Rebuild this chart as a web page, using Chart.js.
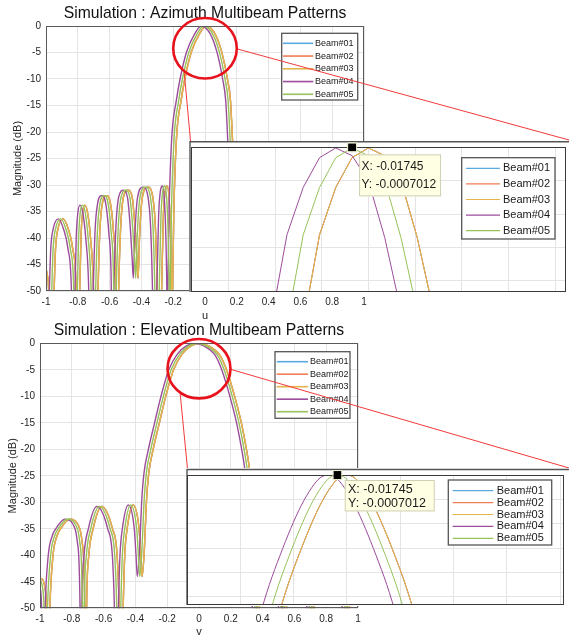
<!DOCTYPE html>
<html>
<head>
<meta charset="utf-8">
<script src="https://cdn.jsdelivr.net/npm/chart.js@4.4.1/dist/chart.umd.min.js"></script>
<style>
  html, body { margin: 0; padding: 0; background: #fff; }
  #page { position: relative; width: 569px; height: 640px; overflow: hidden; background: #fff; }
  canvas { position: absolute; }
  #azChart { left: 0; top: 0; }
  #elChart { left: 0; top: 318px; }
  #azZoom { left: 189px; top: 141px; z-index: 2; }
  #elZoom { left: 186px; top: 468px; z-index: 2; }
</style>
</head>
<body>
<div id="page">
  <canvas id="azChart" width="569" height="330"></canvas>
  <canvas id="elChart" width="569" height="322"></canvas>
  <canvas id="azZoom" width="380" height="152"></canvas>
  <canvas id="elZoom" width="383" height="138"></canvas>
</div>
<script>
const beamNames = ['Beam#01', 'Beam#02', 'Beam#03', 'Beam#04', 'Beam#05'];
const beamColors = ['#5aa9e0', '#ef7d55', '#e5b54c', '#9c4c9c', '#97c25a'];

// azimuth pattern (u, dB) - beams 01..03 overlap
const azMag = [
  -46, -44.8, -46.5, -50, -70,
  -50, -42, -38.3, -36.4, -38.3, -42, -50, -70,
  -50, -40, -35.3, -33.8, -35.3, -40, -50, -70,
  -50, -39, -33.4, -32, -33.4, -39, -48, -70,
  -50, -39, -32.3, -31, -32.3, -38, -44, -47.6,
  -40, -32.5, -30.4, -32, -38, -50, -70,
  -50, -36, -31, -30.2, -32.5, -40, -50, -62,
  -50, -35, -21.5, -14, -10, -4.8, -1.4, 0, -1.4, -4.8, -10, -14, -21.5, -30, -50, -70
];
const azU04 = [
  -1.08, -1.045, -1.025, -1.013, -0.997,
  -0.979, -0.97, -0.955, -0.922, -0.89, -0.862, -0.84, -0.829,
  -0.818, -0.81, -0.8, -0.786, -0.768, -0.75, -0.731, -0.72,
  -0.703, -0.692, -0.675, -0.65, -0.625, -0.605, -0.59, -0.582,
  -0.573, -0.562, -0.543, -0.514, -0.488, -0.47, -0.458, -0.451,
  -0.442, -0.425, -0.39, -0.36, -0.342, -0.33, -0.318,
  -0.303, -0.292, -0.28, -0.268, -0.256, -0.246, -0.24, -0.237,
  -0.234, -0.226, -0.21, -0.18, -0.157, -0.115, -0.063, -0.025, 0.031, 0.074, 0.111, 0.13, 0.143, 0.155, 0.163, 0.168
];
const azU05 = [
  -1.065, -1.03, -1.01, -0.998, -0.982,
  -0.964, -0.955, -0.94, -0.907, -0.875, -0.847, -0.825, -0.814,
  -0.803, -0.795, -0.785, -0.771, -0.753, -0.735, -0.716, -0.705,
  -0.688, -0.677, -0.66, -0.635, -0.61, -0.59, -0.575, -0.567,
  -0.558, -0.547, -0.528, -0.499, -0.473, -0.455, -0.443, -0.436,
  -0.427, -0.41, -0.375, -0.345, -0.327, -0.315, -0.303,
  -0.288, -0.277, -0.265, -0.253, -0.241, -0.231, -0.225, -0.222,
  -0.219, -0.211, -0.195, -0.165, -0.142, -0.1, -0.048, -0.01, 0.046, 0.089, 0.126, 0.145, 0.158, 0.17, 0.178, 0.183
];
const azU03 = [
  -1.05, -1.015, -0.995, -0.983, -0.967,
  -0.949, -0.94, -0.925, -0.892, -0.86, -0.832, -0.81, -0.799,
  -0.788, -0.78, -0.77, -0.756, -0.738, -0.72, -0.701, -0.69,
  -0.673, -0.662, -0.645, -0.62, -0.595, -0.575, -0.56, -0.552,
  -0.543, -0.532, -0.513, -0.484, -0.458, -0.44, -0.428, -0.421,
  -0.412, -0.395, -0.36, -0.33, -0.312, -0.3, -0.288,
  -0.273, -0.262, -0.25, -0.238, -0.226, -0.216, -0.21, -0.207,
  -0.204, -0.196, -0.18, -0.15, -0.127, -0.085, -0.033, 0.005, 0.061, 0.104, 0.141, 0.16, 0.173, 0.185, 0.193, 0.198
];

// elevation pattern (v, dB)
const elMag = [
  -46, -44.4, -46, -50, -70,
  -50, -40, -36.5, -35, -33.2, -35, -37.5, -41, -50, -70,
  -50, -40, -35, -30.8, -35, -40, -50, -70,
  -50, -40, -35, -30.5, -35, -40, -44,
  -39.6, -29.6, -24.5, -20.1, -15.1, -10.1, -5, -2, -0.5, 0, -0.5, -2.2, -5, -10.1, -15.1, -20.1, -24, -30, -40, -50, -70,
  -50, -38, -31, -38, -50, -70,
  -50, -38, -31.5, -38, -50, -70,
  -50, -38, -33.5, -38, -50, -70,
  -50, -40, -36, -40
];
const elU04 = [
  -1.06, -1.02, -1.0, -0.99, -0.982,
  -0.968, -0.948, -0.925, -0.901, -0.843, -0.78, -0.765, -0.755, -0.748, -0.742,
  -0.737, -0.723, -0.696, -0.643, -0.574, -0.545, -0.532, -0.52,
  -0.507, -0.497, -0.482, -0.445, -0.407, -0.396, -0.388,
  -0.375, -0.36, -0.346, -0.319, -0.28, -0.24, -0.19, -0.135, -0.08, -0.025, 0.03, 0.1, 0.143, 0.195, 0.237, 0.269, 0.289, 0.31, 0.325, 0.335, 0.34,
  0.35, 0.37, 0.42, 0.48, 0.5, 0.51,
  0.52, 0.54, 0.6, 0.66, 0.678, 0.686,
  0.694, 0.72, 0.8, 0.87, 0.9, 0.908,
  0.916, 0.95, 1.0, 1.05
];
const elU05 = [
  -1.045, -1.005, -0.985, -0.975, -0.967,
  -0.953, -0.933, -0.91, -0.886, -0.828, -0.765, -0.75, -0.74, -0.733, -0.727,
  -0.722, -0.708, -0.681, -0.628, -0.559, -0.53, -0.517, -0.505,
  -0.492, -0.482, -0.467, -0.43, -0.392, -0.381, -0.373,
  -0.36, -0.345, -0.331, -0.304, -0.265, -0.225, -0.175, -0.12, -0.065, -0.01, 0.045, 0.115, 0.158, 0.21, 0.252, 0.284, 0.304, 0.325, 0.34, 0.35, 0.355,
  0.365, 0.385, 0.435, 0.495, 0.515, 0.525,
  0.535, 0.555, 0.615, 0.675, 0.693, 0.701,
  0.709, 0.735, 0.815, 0.885, 0.915, 0.923,
  0.931, 0.965, 1.015, 1.065
];
const elU03 = [
  -1.03, -0.99, -0.97, -0.96, -0.952,
  -0.938, -0.918, -0.895, -0.871, -0.813, -0.75, -0.735, -0.725, -0.718, -0.712,
  -0.707, -0.693, -0.666, -0.613, -0.544, -0.515, -0.502, -0.49,
  -0.477, -0.467, -0.452, -0.415, -0.377, -0.366, -0.358,
  -0.345, -0.33, -0.316, -0.289, -0.25, -0.21, -0.16, -0.105, -0.05, 0.005, 0.06, 0.13, 0.173, 0.225, 0.267, 0.299, 0.319, 0.34, 0.355, 0.365, 0.37,
  0.38, 0.4, 0.45, 0.51, 0.53, 0.54,
  0.55, 0.57, 0.63, 0.69, 0.708, 0.716,
  0.724, 0.75, 0.83, 0.9, 0.93, 0.938,
  0.946, 0.98, 1.03, 1.08
];

// zoomed peaks (1 degree sampling in azimuth)
const azZoomMag = [-2.65, -1.31, -0.6, -0.155, -0.01, -0.125, -0.5, -1.35, -2.45, -3.5];
const azZoomU04 = [-0.1047, -0.0872, -0.0698, -0.0523, -0.0349, -0.0175, 0, 0.0175, 0.0349, 0.0523];
const azZoomU05 = [-0.0872, -0.0698, -0.0523, -0.0349, -0.0175, 0, 0.0175, 0.0349, 0.0523, 0.0698];
const azZoomU03 = [-0.0698, -0.0523, -0.0349, -0.0175, 0, 0.0175, 0.0349, 0.0523, 0.0698, 0.0872];

const elZoomMag = [-2.95, -2.25, -1.65, -1.1, -0.62, -0.25, -0.06, 0, -0.06, -0.25, -0.62, -1.1, -1.65, -2.25, -2.95];
const elZoomU04 = [-0.165, -0.145, -0.125, -0.105, -0.085, -0.065, -0.05, -0.035, -0.02, -0.005, 0.015, 0.035, 0.055, 0.075, 0.095];
const elZoomU05 = [-0.1475, -0.1275, -0.1075, -0.0875, -0.0675, -0.0475, -0.0325, -0.0175, -0.0025, 0.0125, 0.0325, 0.0525, 0.0725, 0.0925, 0.1125];
const elZoomU03 = [-0.13, -0.11, -0.09, -0.07, -0.05, -0.03, -0.015, 0, 0.015, 0.03, 0.05, 0.07, 0.09, 0.11, 0.13];

const tipX = -0.01745;
const tipY = -0.0007012;

const fontFamily = '"Liberation Sans", Arial, Helvetica, sans-serif';
const ink = '#262626';
const gridColor = '#e4e4e4';

// matlab style tick text: -1, -0.8, 0, 1
const tickText = v => String(Number(v.toFixed(3)));

function beamSets(uLists, mag, width, smooth) {
  return uLists.map((us, i) => ({
    label: beamNames[i],
    data: us.map((u, k) => ({ x: u, y: mag[k] })),
    borderColor: beamColors[i],
    borderWidth: width,
    pointRadius: 0,
    fill: false,
    tension: 0,
    cubicInterpolationMode: smooth ? 'monotone' : 'default',
    clip: 0,
    order: 5 - i
  }));
}

function drawLegend(chart, lg) {
  const ctx = chart.ctx, a = chart.chartArea;
  const x0 = a.right - lg.right - lg.width, y0 = a.top + lg.top;
  ctx.save();
  ctx.fillStyle = '#fff';
  ctx.fillRect(x0, y0, lg.width, lg.height);
  ctx.strokeStyle = '#555';
  ctx.lineWidth = 1.3;
  ctx.strokeRect(x0, y0, lg.width, lg.height);
  ctx.font = lg.size + 'px ' + fontFamily;
  ctx.textBaseline = 'middle';
  ctx.textAlign = 'left';
  chart.data.datasets.forEach((ds, i) => {
    const y = y0 + lg.first + i * lg.step;
    ctx.strokeStyle = ds.borderColor;
    ctx.lineWidth = lg.lineWidth;
    ctx.beginPath();
    ctx.moveTo(x0 + lg.line0, y);
    ctx.lineTo(x0 + lg.line1, y);
    ctx.stroke();
    ctx.fillStyle = '#1a1a1a';
    ctx.fillText(ds.label, x0 + lg.text, y);
  });
  ctx.restore();
}

function drawZoomMark(chart, z) {
  const ctx = chart.ctx, sx = chart.scales.x, sy = chart.scales.y;
  const cx = sx.getPixelForValue(z.u), cy = sy.getPixelForValue(z.db);
  const rx = Math.abs(sx.getPixelForValue(z.u + z.ru) - cx);
  const ry = Math.abs(sy.getPixelForValue(z.db - z.rdb) - cy);
  const inset = document.getElementById(z.target);
  const left = inset.offsetLeft - chart.canvas.offsetLeft;
  const top = inset.offsetTop - chart.canvas.offsetTop;
  const onRing = deg => [cx + rx * Math.cos(deg * Math.PI / 180), cy + ry * Math.sin(deg * Math.PI / 180)];
  const pL = onRing(z.angleL), pR = onRing(z.angleR);
  ctx.save();
  ctx.strokeStyle = '#f23a3a';
  ctx.lineWidth = 1;
  ctx.beginPath();
  ctx.moveTo(pL[0], pL[1]); ctx.lineTo(left + 1.5, top + z.frameTop);
  ctx.moveTo(pR[0], pR[1]); ctx.lineTo(left + inset.width, top + z.frameTop - 1);
  ctx.stroke();
  ctx.strokeStyle = '#e8121c';
  ctx.lineWidth = 2.6;
  ctx.beginPath();
  ctx.ellipse(cx, cy, rx, ry, 0, 0, Math.PI * 2);
  ctx.stroke();
  ctx.restore();
}

function drawTip(chart, t) {
  const ctx = chart.ctx;
  const mx = chart.scales.x.getPixelForValue(tipX), my = chart.scales.y.getPixelForValue(tipY);
  ctx.save();
  ctx.fillStyle = '#ffffe3';
  ctx.strokeStyle = '#cfcfb8';
  ctx.lineWidth = 1;
  ctx.fillRect(mx + t.dx, my + t.dy, t.w, t.h);
  ctx.strokeRect(mx + t.dx + 0.5, my + t.dy + 0.5, t.w - 1, t.h - 1);
  ctx.fillStyle = '#1a1a1a';
  ctx.font = t.size + 'px ' + fontFamily;
  ctx.textBaseline = 'middle';
  ctx.fillText('X: ' + tipX, mx + t.tx, my + t.ty1);
  ctx.fillText('Y: ' + tipY, mx + t.tx, my + t.ty2);
  ctx.fillStyle = '#000';
  ctx.fillRect(mx - 4, my - 4, 8, 8);
  ctx.strokeStyle = '#e8e8c8';
  ctx.strokeRect(mx - 4.5, my - 4.5, 9, 9);
  ctx.restore();
}

// background, axes box, title, legend, zoom ring and datatip
const figurePlugin = {
  id: 'figure',
  beforeDraw(chart, args, o) {
    if (!o.fill) return;
    const ctx = chart.ctx;
    ctx.save();
    ctx.fillStyle = '#fff';
    ctx.fillRect(0, 0, chart.width, chart.height);
    ctx.restore();
  },
  afterDraw(chart, args, o) {
    const ctx = chart.ctx, a = chart.chartArea;
    if (!o.box) return;
    ctx.save();
    if (o.frame) {
      ctx.strokeStyle = '#555';
      ctx.lineWidth = 1.4;
      ctx.beginPath();
      ctx.moveTo(chart.width, o.frame);
      ctx.lineTo(1, o.frame);
      ctx.lineTo(1, a.bottom);
      ctx.stroke();
    }
    ctx.strokeStyle = o.box;
    ctx.lineWidth = 1;
    ctx.strokeRect(Math.round(a.left) + 0.5, Math.round(a.top) + 0.5, Math.round(a.right - a.left) - 1, Math.round(a.bottom - a.top) - 1);
    if (o.title) {
      ctx.fillStyle = '#111';
      ctx.font = '15.7px ' + fontFamily;
      ctx.textAlign = 'center';
      ctx.textBaseline = 'middle';
      ctx.fillText(o.title, (a.left + a.right) / 2, o.titleY);
    }
    ctx.restore();
    if (o.tip) drawTip(chart, o.tip);
    if (o.legend) drawLegend(chart, o.legend);
    if (o.zoom) drawZoomMark(chart, o.zoom);
  }
};
Chart.register(figurePlugin);

function mainChart(id, sets, cfg) {
  return new Chart(document.getElementById(id), {
    type: 'line',
    data: { datasets: sets },
    options: {
      responsive: false,
      animation: false,
      devicePixelRatio: 1,
      events: [],
      layout: { padding: cfg.padding },
      scales: {
        x: {
          type: 'linear', min: -1, max: 1,
          ticks: { stepSize: 0.2, padding: 5, color: ink, font: { family: fontFamily, size: 10 }, callback: tickText },
          grid: { color: gridColor, drawTicks: false },
          border: { display: false },
          title: { display: true, text: cfg.xTitle, color: ink, font: { family: fontFamily, size: 11 }, padding: { top: 0, bottom: cfg.xTitlePad } },
          afterFit: s => { s.height = cfg.xHeight; }
        },
        y: {
          type: 'linear', min: -50, max: 0,
          ticks: { stepSize: 5, padding: 5, color: ink, font: { family: fontFamily, size: 10 }, callback: tickText },
          grid: { color: gridColor, drawTicks: false },
          border: { display: false },
          title: { display: true, text: 'Magnitude (dB)', color: ink, font: { family: fontFamily, size: 11 }, padding: { top: cfg.yTitlePad, bottom: 0 } },
          afterFit: s => { s.width = cfg.yWidth; }
        }
      },
      plugins: {
        legend: { display: false },
        tooltip: { enabled: false },
        figure: cfg.figure
      }
    }
  });
}

function zoomChart(id, sets, cfg) {
  return new Chart(document.getElementById(id), {
    type: 'line',
    data: { datasets: sets },
    options: {
      responsive: false,
      animation: false,
      devicePixelRatio: 1,
      events: [],
      layout: { padding: cfg.padding },
      scales: {
        x: {
          type: 'linear', min: cfg.xMin, max: cfg.xMax,
          ticks: { display: false, stepSize: cfg.xStep, includeBounds: false },
          grid: { color: gridColor, drawTicks: false },
          border: { display: false },
          afterFit: s => { s.height = 0; }
        },
        y: {
          type: 'linear', min: cfg.yMin, max: 0,
          ticks: { display: false, stepSize: 0.5, includeBounds: false },
          grid: { color: gridColor, drawTicks: false },
          border: { display: false },
          afterFit: s => { s.width = 0; }
        }
      },
      plugins: {
        legend: { display: false },
        tooltip: { enabled: false },
        figure: cfg.figure
      }
    }
  });
}

// Azimuth
mainChart('azChart', beamSets([azU03, azU03, azU03, azU04, azU05], azMag, 1.4, true), {
  padding: { left: 0, top: 26, right: 205, bottom: 0 },
  xTitle: 'u', xTitlePad: 7, xHeight: 39, yWidth: 46, yTitlePad: 11,
  figure: {
    box: '#5a5a5a',
    title: 'Simulation : Azimuth Multibeam Patterns', titleY: 14,
    legend: { right: 6.3, top: 7.3, width: 76, height: 66.7, first: 10, step: 12.75, line0: 1.3, line1: 31.6, text: 33.3, size: 9, lineWidth: 1.6 },
    zoom: { u: 0, db: -4.2, ru: 0.2, rdb: 5.7, target: 'azZoom', frameTop: 0, angleL: 131, angleR: 1 }
  }
});

// Elevation
mainChart('elChart', beamSets([elU03, elU03, elU03, elU04, elU05], elMag, 1.4, true), {
  padding: { left: 0, top: 25.3, right: 211, bottom: 0 },
  xTitle: 'v', xTitlePad: 1.4, xHeight: 31.7, yWidth: 40, yTitlePad: 6,
  figure: {
    box: '#5a5a5a',
    title: 'Simulation : Elevation Multibeam Patterns', titleY: 13,
    legend: { right: 8, top: 8.4, width: 75, height: 66.6, first: 10, step: 12.5, line0: 1.7, line1: 33, text: 35, size: 9, lineWidth: 1.6 },
    zoom: { u: 0, db: -4.8, ru: 0.198, rdb: 5.6, target: 'elZoom', frameTop: 1, angleL: 127, angleR: 1 }
  }
});

// Zoomed peaks
zoomChart('azZoom', beamSets([azZoomU03, azZoomU03, azZoomU03, azZoomU04, azZoomU05], azZoomMag, 1, false), {
  padding: { left: 2, top: 6.3, right: 3, bottom: 1 },
  xMin: -0.19, xMax: 0.2117, xStep: 0.05, yMin: -2.166,
  figure: {
    fill: true, frame: 0.7, box: '#3a3a3a',
    legend: { right: 11, top: 10.4, width: 93.3, height: 81.3, first: 10.6, step: 15.6, line0: 4.3, line1: 38.3, text: 41.3, size: 11, lineWidth: 1.2 },
    tip: { dx: 7, dy: 7, w: 82, h: 42, tx: 9.4, ty1: 19.4, ty2: 37, size: 12 }
  }
});

zoomChart('elZoom', beamSets([elZoomU03, elZoomU03, elZoomU03, elZoomU04, elZoomU05], elZoomMag, 1, true), {
  padding: { left: 0.7, top: 7, right: 5.7, bottom: 1 },
  xMin: -0.3, xMax: 0.406, xStep: 0.1, yMin: -2.67,
  figure: {
    fill: true, frame: 1.5, box: '#3a3a3a',
    legend: { right: 11.6, top: 5, width: 103.4, height: 65, first: 10.7, step: 11.9, line0: 4.4, line1: 45, text: 48.4, size: 11, lineWidth: 1.2 },
    tip: { dx: 7.3, dy: 5, w: 90, h: 31.4, tx: 10.6, ty1: 15, ty2: 29, size: 12.5 }
  }
});
</script>
</body>
</html>
